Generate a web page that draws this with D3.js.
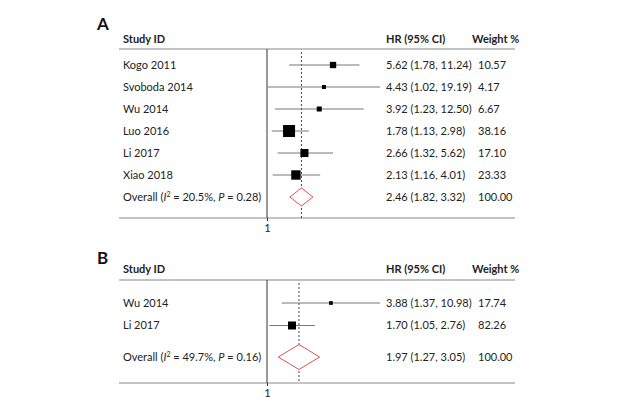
<!DOCTYPE html>
<html><head><meta charset="utf-8">
<script src="https://cdn.jsdelivr.net/npm/d3@7"></script>
<style>body{margin:0;background:#fff}svg{font-family:Lato,"Open Sans",sans-serif}</style>
</head><body><svg id="c" width="625" height="415"></svg>
<script>
// Panel A data
const studiesA = ["Kogo 2011","Svoboda 2014","Wu 2014","Luo 2016","Li 2017","Xiao 2018"];
const hrA = [5.62,4.43,3.92,1.78,2.66,2.13];
const lowA = [1.78,1.02,1.23,1.13,1.32,1.16];
const highA = [11.24,19.19,12.50,2.98,5.62,4.01];
const weightA = ["10.57","4.17","6.67","38.16","17.10","23.33"];
const overallA = {hr:2.46, low:1.82, high:3.32, i2:"20.5%", p:"0.28", weight:"100.00"};
// Panel B data
const studiesB = ["Wu 2014","Li 2017"];
const hrB = [3.88,1.70];
const lowB = [1.37,1.05];
const highB = [10.98,2.76];
const weightB = ["17.74","82.26"];
const overallB = {hr:1.97, low:1.27, high:3.05, i2:"49.7%", p:"0.16", weight:"100.00"};
const tickValues = [1];

const svg = d3.select("#c");
const fmt = d3.format(".2f");
const txt = "#222", lineC = "#777";

function panel(cfg){
  const g = svg.append("g");
  const x = d3.scaleLog().domain([1, d3.max(cfg.high)]).range([267, 380]);
  const wNum = cfg.weight.map(Number);
  const side = d3.scaleSqrt().domain([0, d3.max(wNum)]).range([0, cfg.maxSide]);
  const ys = cfg.studies.map((d,i)=>cfg.row0 + i*cfg.step);
  g.append("text").attr("x",97).attr("y",cfg.labelY).attr("font-size",17).attr("font-weight","bold").attr("fill","#111").text(cfg.label);
  // headers
  g.append("text").attr("x",123).attr("y",cfg.headY).attr("font-size",11).attr("font-weight","bold").attr("fill",txt).text("Study ID");
  g.append("text").attr("x",386).attr("y",cfg.headY).attr("font-size",11).attr("font-weight","bold").attr("fill",txt).text("HR (95% CI)");
  g.append("text").attr("x",472).attr("y",cfg.headY).attr("font-size",11).attr("font-weight","bold").attr("fill",txt).text("Weight %");
  // rules
  [cfg.lineY, cfg.bottomY].forEach(y=>g.append("line").attr("x1",119).attr("x2",515).attr("y1",y).attr("y2",y).attr("stroke","#888").attr("stroke-width",1.2));
  // null line
  g.append("line").attr("x1",x(1)).attr("x2",x(1)).attr("y1",cfg.lineY).attr("y2",cfg.bottomY).attr("stroke","#333").attr("stroke-width",1);
  // overall dashed
  g.append("line").attr("x1",x(cfg.overall.hr)).attr("x2",x(cfg.overall.hr)).attr("y1",cfg.lineY+3).attr("y2",cfg.bottomY).attr("stroke","#444").attr("stroke-width",1).attr("stroke-dasharray","2,2");
  // axis
  const ax = g.append("g").attr("transform",`translate(0,${cfg.bottomY})`).call(d3.axisBottom(x).tickValues(tickValues).tickFormat(d3.format("d")).tickSize(3));
  ax.select(".domain").remove();
  ax.selectAll("line").attr("stroke","#333");
  ax.selectAll("text").attr("font-size",11).attr("fill",txt).attr("font-family","Lato,sans-serif");
  // study rows
  cfg.studies.forEach((s,i)=>{
    const y = ys[i];
    g.append("text").attr("x",123).attr("y",y).attr("dy","0.35em").attr("font-size",11).attr("fill",txt).text(s);
    g.append("line").attr("x1",x(cfg.low[i])).attr("x2",x(Math.min(cfg.high[i], x.domain()[1]))).attr("y1",y).attr("y2",y).attr("stroke",lineC).attr("stroke-width",1);
    const sd = side(wNum[i]);
    g.append("rect").attr("x",x(cfg.hr[i])-sd/2).attr("y",y-sd/2).attr("width",sd).attr("height",sd).attr("fill","#000");
    g.append("text").attr("x",386).attr("y",y).attr("dy","0.35em").attr("font-size",11).attr("fill",txt).text(`${fmt(cfg.hr[i])} (${fmt(cfg.low[i])}, ${fmt(cfg.high[i])})`);
    g.append("text").attr("x",478).attr("y",y).attr("dy","0.35em").attr("font-size",11).attr("fill",txt).text(cfg.weight[i]);
  });
  // overall
  const o = cfg.overall, oy = cfg.overallY;
  const t = g.append("text").attr("x",123).attr("y",oy).attr("dy","0.35em").attr("font-size",11).attr("fill",txt);
  t.append("tspan").text("Overall (");
  t.append("tspan").attr("font-style","italic").text("I");
  t.append("tspan").attr("font-size",7).attr("dy","-0.5em").text("2");
  t.append("tspan").attr("dy","0.32em").text(` = ${o.i2}, `);
  t.append("tspan").attr("font-style","italic").text("P");
  t.append("tspan").text(` = ${o.p})`);
  const pts = [[x(o.low),oy],[x(o.hr),oy-cfg.dh],[x(o.high),oy],[x(o.hr),oy+cfg.dh]];
  g.append("path").attr("d","M"+pts.join("L")+"Z").attr("fill","#fff").attr("stroke","#d9534f").attr("stroke-width",1);
  g.append("text").attr("x",386).attr("y",oy).attr("dy","0.35em").attr("font-size",11).attr("fill",txt).text(`${fmt(o.hr)} (${fmt(o.low)}, ${fmt(o.high)})`);
  g.append("text").attr("x",478).attr("y",oy).attr("dy","0.35em").attr("font-size",11).attr("fill",txt).text(o.weight);
}

panel({label:"A", labelY:30, headY:43, lineY:49, row0:65, step:22, overallY:197, bottomY:218, dh:9, maxSide:12,
  studies:studiesA, hr:hrA, low:lowA, high:highA, weight:weightA, overall:overallA});
panel({label:"B", labelY:264, headY:273, lineY:280, row0:303, step:22.5, overallY:357, bottomY:383, dh:12.5, maxSide:8,
  studies:studiesB, hr:hrB, low:lowB, high:highB, weight:weightB, overall:overallB});
</script></body></html>
